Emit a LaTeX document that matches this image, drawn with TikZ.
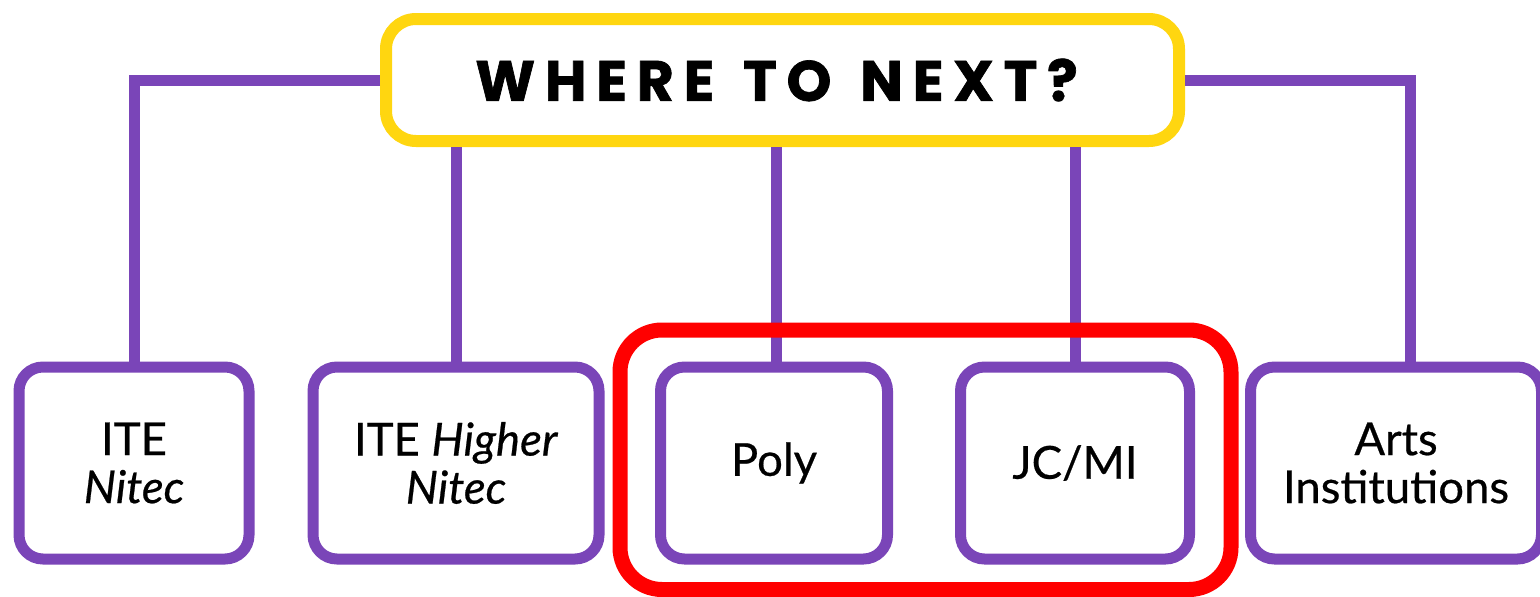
\documentclass[tikz,border=0pt]{standalone}
\usepackage{fontspec}
\setmainfont{Lato}[UprightFeatures={FakeBold=0.5},ItalicFeatures={FakeBold=0.5}]
\newfontfamily\titlefont{Poppins}[LetterSpace=17,FakeBold=1.2]
\definecolor{purp}{RGB}{122,69,184}
\definecolor{gold}{RGB}{255,214,16}
\definecolor{redframe}{RGB}{255,0,0}
\tikzset{
  conn/.style={draw=purp, line width=11pt},
  pbox/.style={draw=purp, line width=11pt, rounded corners=24pt, fill=white, align=center,
    inner sep=0pt, minimum height=192pt, font=\fontsize{45.5}{48}\selectfont},
  titlebox/.style={draw=gold, line width=12pt, rounded corners=30pt, fill=white,
    inner sep=0pt, minimum width=793pt, minimum height=122pt},
  hilite/.style={draw=redframe, line width=15pt, rounded corners=42pt, inner sep=0pt}
}
\begin{document}
\begin{tikzpicture}[x=1pt,y=-1pt]
\useasboundingbox[fill=white] (0,0) rectangle (1540,597);
\node[titlebox] (top) at (782.5,80) {\titlefont\bfseries\fontsize{57}{60}\selectfont\kern-12pt WHERE\hspace{7pt} TO\hspace{7pt} NEXT?};
\node[pbox, minimum width=230pt] (b1) at (134,463) {ITE\\\textit{Nitec}};
\node[pbox, minimum width=286pt] (b2) at (456,463) {ITE \textit{Higher}\\\textit{Nitec}};
\node[pbox, minimum width=227pt] (b3) at (774,463) {Poly};
\node[pbox, minimum width=229pt] (b4) at (1075,463) {JC/MI};
\node[pbox, minimum width=291pt] (b5) at (1396,463) {Arts\\Institutions};
\draw[conn] (top.west) -| (b1.north);
\draw[conn] (top.east) -| ([xshift=14pt]b5.north);
\draw[conn] (top.south -| b2.north) -- (b2.north);
\draw[conn] ([xshift=2pt]top.south -| b3.north) -- ([xshift=2pt]b3.north);
\draw[conn] (top.south -| b4.north) -- (b4.north);
\node[hilite, minimum width=611pt, minimum height=259.5pt] (frame) at (925.5,459.75) {};
\end{tikzpicture}
\end{document}
